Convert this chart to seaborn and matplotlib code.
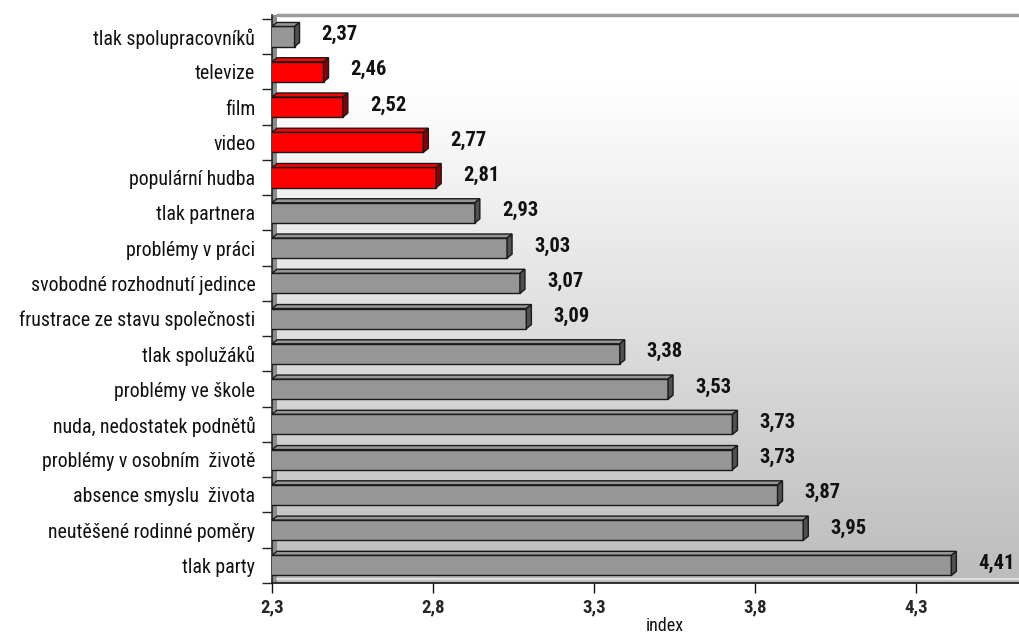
import numpy as np
import matplotlib
matplotlib.use("Agg")
import matplotlib.pyplot as plt
from matplotlib import font_manager
from matplotlib.patches import Polygon, Rectangle
from matplotlib.colors import LinearSegmentedColormap
import seaborn as sns

categories = ["tlak spolupracovníků", "televize", "film", "video", "populární hudba",
              "tlak partnera", "problémy v práci", "svobodné rozhodnutí jedince",
              "frustrace ze stavu společnosti", "tlak spolužáků", "problémy ve škole",
              "nuda, nedostatek podnětů", "problémy v osobním  životě",
              "absence smyslu  života", "neutěšené rodinné poměry", "tlak party"]
values = [2.37, 2.46, 2.52, 2.77, 2.81, 2.93, 3.03, 3.07, 3.09, 3.38, 3.53,
          3.73, 3.73, 3.87, 3.95, 4.41]
groups = ["ostatní", "média", "média", "média", "média"] + ["ostatní"] * 11
xticks = [2.3, 2.8, 3.3, 3.8, 4.3]
xtick_labels = ["2,3", "2,8", "3,3", "3,8", "4,3"]

face_colors = {"ostatní": "#969696", "média": "#ff0000"}
side_colors = {"ostatní": "#505050", "média": "#8a0000"}

sns.set_theme(style="white")
avail = {f.name for f in font_manager.fontManager.ttflist}
fam = None
for cand in ["Liberation Sans Narrow", "DejaVu Sans Condensed", "Roboto Condensed", "Liberation Sans"]:
    if cand in avail:
        fam = cand
        break
plt.rcParams["font.family"] = [fam, "DejaVu Sans"] if fam else ["DejaVu Sans"]

W, H = 1019, 633
fig = plt.figure(figsize=(W / 100, H / 100), dpi=100)
ax = fig.add_axes([272 / W, (H - 583) / H, (W - 272) / W, (583 - 15) / H])

sns.barplot(x=values, y=categories, hue=groups, palette=face_colors, dodge=False,
            orient="h", width=0.57, edgecolor="#1a1a1a", linewidth=1.0, saturation=1,
            legend=False, ax=ax, zorder=3)
bars = sorted([p for p in ax.patches], key=lambda p: p.get_y())

x0, x1 = 2.3, 4.62
y_top, y_bot = -0.61, 15.47

# background gradient (white at top -> grey at bottom)
cmap = LinearSegmentedColormap.from_list("bg", [(0, "#ffffff"), (0.12, "#ffffff"), (1, "#bcbcbc")])
grad = np.linspace(0, 1, 256).reshape(-1, 1)
ax.imshow(grad, extent=[0, 1, 0, 1], origin="upper", transform=ax.transAxes, cmap=cmap,
          aspect="auto", zorder=0)
ax.set_xlim(x0, x1)
ax.set_ylim(y_bot, y_top)

fig.canvas.draw()
bb = ax.get_window_extent()
px_x = (x1 - x0) / bb.width
px_y = (y_bot - y_top) / bb.height
dx, dy = 5 * px_x, 4 * px_y

# left wall
ax.add_patch(Rectangle((x0, y_top), dx, y_bot - y_top, facecolor="#8c8c8c",
                       edgecolor="none", zorder=2))

# 3D faces from bar geometry
for patch, g in zip(bars, groups):
    bx = patch.get_x()
    bw = patch.get_width()
    by = patch.get_y()
    bh = patch.get_height()
    xr = bx + bw
    ytop, ybot = by, by + bh
    top = Polygon([(x0, ytop), (xr, ytop), (xr + dx, ytop - dy), (x0 + dx, ytop - dy)],
                  closed=True, facecolor=face_colors[g], edgecolor="#1a1a1a", lw=1.0, zorder=3)
    side = Polygon([(xr, ytop), (xr, ybot), (xr + dx, ybot - dy), (xr + dx, ytop - dy)],
                   closed=True, facecolor=side_colors[g], edgecolor="#1a1a1a", lw=1.0, zorder=3)
    ax.add_patch(top)
    ax.add_patch(side)

# value labels
for patch, v in zip(bars, values):
    yc = patch.get_y() + patch.get_height() / 2
    ax.annotate(f"{v:.2f}".replace(".", ","), xy=(v, yc), xytext=(27 * 0.72, 2 * 0.72),
                textcoords="offset points", ha="left", va="center",
                fontsize=14.8, fontweight="bold", color="#111111", zorder=5)

# spines / frame
for s in ["top", "right"]:
    ax.spines[s].set_visible(False)
ax.spines["left"].set_color("#222222")
ax.spines["bottom"].set_color("#111111")
ax.spines["left"].set_linewidth(1.2)
ax.spines["bottom"].set_linewidth(1.2)
ax.plot([x0 + dx, x1], [y_top, y_top], color="#9a9a9a", lw=2.5, zorder=4, clip_on=False)
ax.plot([x0 + dx, x1], [y_bot - 3 * px_y, y_bot - 3 * px_y], color="#e0e0e0", lw=1.5, zorder=4)

# ticks
ax.set_xticks(xticks)
ax.set_xticklabels(xtick_labels, fontweight="bold", fontsize=13.5)
ax.tick_params(axis="x", direction="out", length=7, width=1, color="#111111", pad=4, bottom=True)
ax.set_yticks(range(len(categories)))
ax.set_yticklabels(categories, fontsize=14.3, color="#111111")
ax.tick_params(axis="y", which="major", length=0, pad=12)
ax.set_yticks(np.arange(-0.5, len(categories), 1.0), minor=True)
ax.tick_params(axis="y", which="minor", direction="out", length=7, width=1, color="#222222", left=True)
ax.set_ylabel("")
ax.set_xlabel("index", fontsize=13, color="#111111")
ax.xaxis.set_label_coords((665 - 272) / (W - 272), (583 - 626) / (583 - 15))
ax.xaxis.label.set_va("center")
ax.grid(False)

fig.savefig("out.png", dpi=100)
